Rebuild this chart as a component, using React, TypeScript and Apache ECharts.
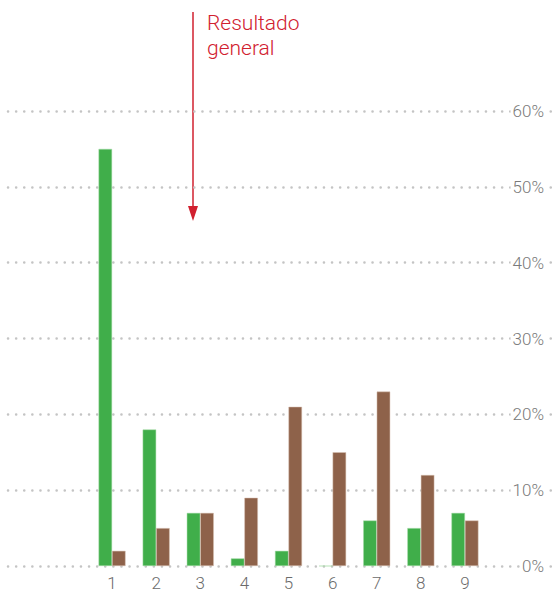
import React, { useEffect, useRef } from "react";
import * as echarts from "echarts";

const categories = ["1", "2", "3", "4", "5", "6", "7", "8", "9"];
const greenValues = [55, 18, 7, 1, 2, 0, 6, 5, 7];
const brownValues = [2, 5, 7, 9, 21, 15, 23, 12, 6];
const yTicks = [0, 10, 20, 30, 40, 50, 60];
const annotationText = "Resultado\ngeneral";

const FONT = "Roboto, sans-serif";

export default function App() {
  const ref = useRef<HTMLDivElement>(null);
  useEffect(() => {
    if (!ref.current) return;
    const chart = echarts.init(ref.current, null, { renderer: "svg" });
    chart.setOption({
      animation: false,
      grid: [
        { left: 90, right: 68, top: 111, bottom: 25 },
        { left: 8, right: 0, top: 111, bottom: 25 },
      ],
      xAxis: [
        {
          type: "category",
          gridIndex: 0,
          data: categories,
          axisLine: { show: false },
          axisTick: { show: false },
          axisLabel: { color: "#6b6b6b", fontSize: 17, fontWeight: 300, fontFamily: FONT, margin: 8 },
        },
        { type: "value", gridIndex: 1, min: 0, max: 1, show: false },
      ],
      yAxis: [
        { type: "value", gridIndex: 0, min: 0, max: 60, show: false },
        {
          type: "value",
          gridIndex: 1,
          position: "right",
          min: yTicks[0],
          max: yTicks[yTicks.length - 1],
          interval: 10,
          axisLine: { show: false },
          axisTick: { show: false },
          splitLine: {
            show: true,
            lineStyle: { color: "#c4c4c4", width: 2.5, type: [0.1, 8], cap: "round" },
          },
          axisLabel: {
            inside: true,
            margin: 9,
            formatter: "{value}%",
            color: "#7a7a7a",
            fontSize: 17,
            fontWeight: 300,
            fontFamily: FONT,
            backgroundColor: "#ffffff",
            padding: [0, 2],
          },
        },
      ],
      series: [
        {
          type: "bar",
          xAxisIndex: 0,
          yAxisIndex: 0,
          data: greenValues,
          barWidth: 13.5,
          barGap: "0%",
          itemStyle: { color: "#40ae4a", borderColor: "#a8dcaa", borderWidth: 0.5 },
        },
        {
          type: "bar",
          xAxisIndex: 0,
          yAxisIndex: 0,
          data: brownValues,
          barWidth: 13.5,
          barGap: "0%",
          itemStyle: { color: "#8e624a", borderColor: "#d9c2b4", borderWidth: 0.5 },
        },
      ],
      graphic: [
        {
          type: "line",
          shape: { x1: 193, y1: 12, x2: 193, y2: 210 },
          style: { stroke: "#d1202f", lineWidth: 1.5 },
        },
        {
          type: "polygon",
          shape: { points: [[188, 206], [198, 206], [193, 221]] },
          style: { fill: "#d1202f" },
        },
        {
          type: "text",
          left: 207,
          top: 10,
          style: {
            text: annotationText,
            fill: "#d1202f",
            font: `300 21px ${FONT}`,
            lineHeight: 25,
          },
        },
      ],
    });
    return () => chart.dispose();
  }, []);
  return <div ref={ref} style={{ width: 555, height: 591, position: "absolute", left: 0, top: 0 }} />;
}
